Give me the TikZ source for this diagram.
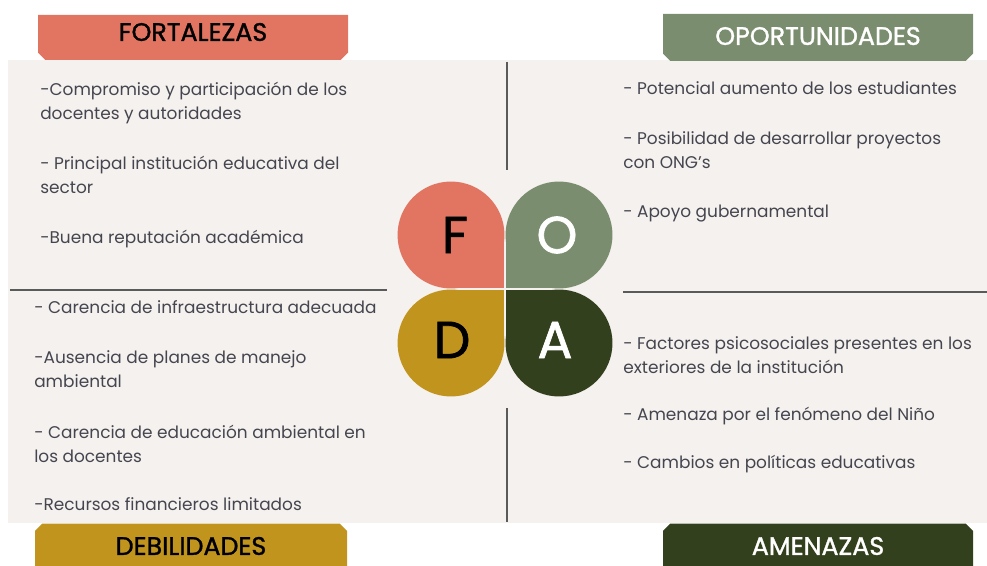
\documentclass[tikz,border=0pt]{standalone}
\usepackage{fontspec}
\setmainfont{Poppins}
\newfontfamily\headfont{Poppins}[FakeBold=1.3]
\usepackage{xcolor}
\usepackage{tikz}
\usetikzlibrary{shapes.misc}
\definecolor{salmon}{HTML}{E27562}
\definecolor{sage}{HTML}{7A8D6E}
\definecolor{mustard}{HTML}{C1941E}
\definecolor{forest}{HTML}{32401D}
\definecolor{paper}{HTML}{F5F1EE}
\definecolor{ink}{HTML}{45454F}
\definecolor{rulegray}{HTML}{5A5A5A}

\begin{document}
\begin{tikzpicture}[x=0.75pt,y=-0.75pt,
  head/.style={chamfered rectangle, chamfered rectangle xsep=3pt, chamfered rectangle ysep=2.5pt,
    inner sep=0pt, minimum width=232.5pt, minimum height=33.75pt,
    font=\headfont\fontsize{19}{20}\selectfont, text height=13.3pt},
  item/.style={anchor=north west, inner sep=0pt, align=left, text=ink,
    font=\fontsize{12.7}{18}\selectfont, execute at begin node=\strut},
  letter/.style={font=\headfont\fontsize{39}{40}\selectfont}]
\useasboundingbox (0,0) rectangle (987,566);
\clip (0,0) rectangle (987,566);
\fill[paper] (8,60) rectangle (987,523);

\node[head, fill=salmon, chamfered rectangle corners={south west,south east}, text depth=8.2pt] (fort) at (193,37.5) {FORTALEZAS};
\node[head, fill=sage, text=white, chamfered rectangle corners={south west,south east}, text depth=2.2pt, minimum height=35.25pt] (opor) at (818,37.5) {OPORTUNIDADES};
\node[head, fill=mustard, chamfered rectangle corners={north west,north east}, text depth=0pt, minimum width=234pt] (deb) at (191,546) {DEBILIDADES};
\node[head, fill=forest, text=white, chamfered rectangle corners={north west,north east}, text depth=0pt] (ame) at (818,546) {AMENAZAS};

\draw[rulegray, line width=1.1pt] (507,62) -- (507,170);
\draw[rulegray, line width=1.1pt] (507,408) -- (507,522);
\draw[rulegray, line width=1.1pt] (10,290) -- (387,290);
\draw[rulegray, line width=1.1pt] (623,292) -- (987,292);

\coordinate (c) at (505,289);
\foreach \col/\dx/\dy in {salmon/-1/-1, sage/1/-1, mustard/-1/1, forest/1/1} {
  \fill[\col] (505+\dx*54,289+\dy*54) circle[radius=40.1pt];
  \fill[\col] (505+\dx*54,289+\dy*54) rectangle (505+\dx*0.7,289+\dy*0.7);
}
\node[letter] (lf) at (455,235) {F};
\node[letter, text=white] (lo) at (557,235) {O};
\node[letter] (ld) at (452,340) {D};
\node[letter, text=white] (la) at (555,340) {A};

\node[item] (f1) at (40,81.5) {-Compromiso y participación de los\\docentes y autoridades};
\node[item] (f2) at (40,155.5) {- Principal institución educativa del\\sector};
\node[item] (f3) at (40,226.2) {-Buena reputación académica};
\node[item] (d1) at (34,296.5) {- Carencia de infraestructura adecuada};
\node[item] (d2) at (34,350.5) {-Ausencia de planes de manejo\\ambiental};
\node[item] (d3) at (34,424.5) {- Carencia de educación ambiental en\\los docentes};
\node[item] (d4) at (34,493.2) {-Recursos financieros limitados};
\node[item] (o1) at (623,77.2) {- Potencial aumento de los estudiantes};
\node[item] (o2) at (623,131.5) {- Posibilidad de desarrollar proyectos\\con ONG’s};
\node[item] (o3) at (623,200.2) {- Apoyo gubernamental};
\node[item] (a1) at (623,336.5) {- Factores psicosociales presentes en los\\exteriores de la institución};
\node[item] (a2) at (623,403.5) {- Amenaza por el fenómeno del Niño};
\node[item] (a3) at (623,451.2) {- Cambios en políticas educativas};
\end{tikzpicture}
\end{document}
